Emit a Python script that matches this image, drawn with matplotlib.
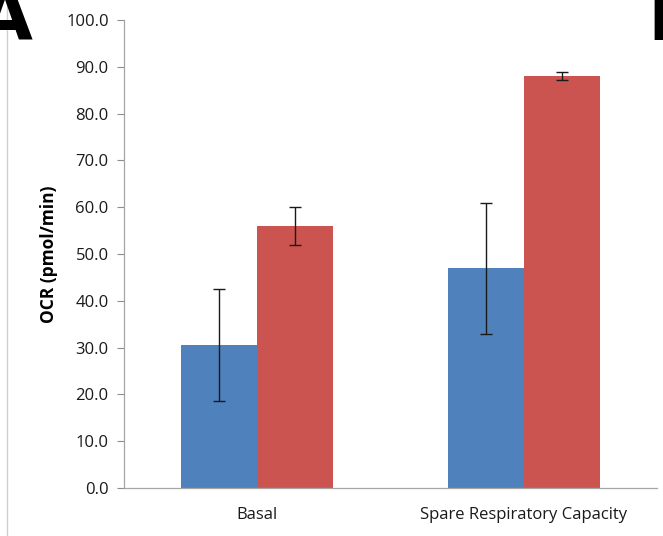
import matplotlib
matplotlib.use("Agg")
import matplotlib.pyplot as plt
from matplotlib.lines import Line2D
import numpy as np

categories = ["Basal", "Spare Respiratory Capacity"]
control_means = [30.6, 47.0]
control_err = [12.0, 14.0]
treated_means = [56.0, 88.0]
treated_err = [4.0, 0.9]
yticks = [0, 10, 20, 30, 40, 50, 60, 70, 80, 90, 100]

plt.rcParams["font.family"] = ["Open Sans", "DejaVu Sans"]

W, H = 663, 536
fig = plt.figure(figsize=(W / 100, H / 100), dpi=100)
ax = fig.add_axes([124 / W, 1 - 488 / H, (657 - 124) / W, (488 - 20) / H])

x = np.arange(len(categories))
bw = 0.286
blue = "#4F81BD"
red = "#CB5450"
ekw = dict(ecolor="#1a1a1a", elinewidth=1.0, capsize=4, capthick=1.0)
ax.bar(x - bw / 2, control_means, bw, color=blue, yerr=control_err, error_kw=ekw)
ax.bar(x + bw / 2, treated_means, bw, color=red, yerr=treated_err, error_kw=ekw)

ax.set_xlim(-0.5, 1.5)
ax.set_ylim(0, 100)
ax.set_yticks(yticks)
ax.set_yticklabels([f"{v:.1f}" for v in yticks], fontsize=12, color="#1a1a1a")
ax.set_xticks(x)
ax.set_xticklabels(categories, fontsize=12, color="#1a1a1a")
ax.tick_params(axis="y", direction="out", length=5, color="#8c8c8c", width=0.8, pad=6)
ax.tick_params(axis="x", length=0, pad=14)
for s in ["top", "right"]:
    ax.spines[s].set_visible(False)
for s in ["left", "bottom"]:
    ax.spines[s].set_color("#a6a6a6")
    ax.spines[s].set_linewidth(0.9)
ax.set_ylabel("OCR (pmol/min)", fontsize=12.5, fontweight="bold", labelpad=6)

# panel letters and separator
fig.add_artist(Line2D([7 / W, 7 / W], [0, 1], color="#cfcfcf", lw=1.0))
fig.text(33 / W, 1 - 40 / H, "A", fontsize=52, fontweight="bold", ha="right",
         va="baseline", family="DejaVu Sans")
fig.text(647 / W, 1 - 40 / H, "B", fontsize=52, fontweight="bold", ha="left",
         va="baseline", family="DejaVu Sans")

fig.savefig("out.png", dpi=100)
